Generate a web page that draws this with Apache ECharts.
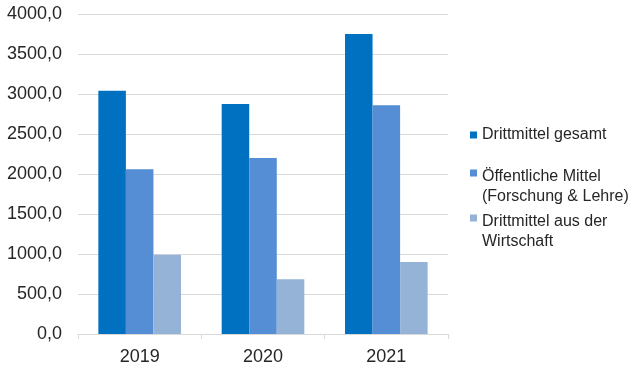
<!DOCTYPE html>
<html><head><meta charset="utf-8">
<script src="https://cdn.jsdelivr.net/npm/echarts@6/dist/echarts.min.js"></script>
<style>html,body{margin:0;padding:0;background:#fff}#c{width:640px;height:373px}</style>
</head><body><div id="c"></div>
<script>
const categories = ['2019', '2020', '2021'];
const seriesNames = ['Drittmittel gesamt', 'Öffentliche Mittel\n(Forschung & Lehre)', 'Drittmittel aus der\nWirtschaft'];
const gesamt = [3040, 2875, 3750];
const oeffentlich = [2060, 2200, 2858];
const wirtschaft = [990, 684, 900];
const colors = ['#0070c0', '#558ed5', '#95b3d7'];
const values = [gesamt, oeffentlich, wirtschaft];

const font = 'Liberation Sans, Arial, sans-serif';
const txt = '#262626';
const icon = 'path://M0,0h8v8h-8zM8,40';

const chart = echarts.init(document.getElementById('c'), null, {renderer: 'canvas'});
const legendTop = [120, 162, 207];
chart.setOption({
  animation: false,
  grid: {left: 78, right: 192, top: 14, bottom: 39, containLabel: false},
  xAxis: {
    type: 'category', data: categories,
    axisLine: {lineStyle: {color: '#d9d9d9', width: 1}},
    axisTick: {show: true, length: 5, lineStyle: {color: '#d9d9d9'}},
    axisLabel: {color: txt, fontFamily: font, fontSize: 18, margin: 14}
  },
  yAxis: {
    type: 'value', min: 0, max: 4000, interval: 500,
    axisLine: {show: false}, axisTick: {show: false},
    splitLine: {lineStyle: {color: '#d9d9d9', width: 1}},
    axisLabel: {color: txt, fontFamily: font, fontSize: 18, margin: 16,
      formatter: v => v.toFixed(1).replace('.', ',')}
  },
  legend: seriesNames.map((n, i) => ({
    data: [n], left: 465, top: legendTop[i], orient: 'vertical',
    icon: i === 0 ? 'rect' : icon,
    itemWidth: 7, itemHeight: i === 0 ? 7 : 38,
    selectedMode: false,
    textStyle: {color: txt, fontFamily: font, fontSize: 16, lineHeight: 20}
  })),
  series: seriesNames.map((n, i) => ({
    name: n, type: 'bar', data: values[i],
    itemStyle: {color: colors[i]},
    barGap: '0%', barCategoryGap: '33%'
  }))
});
</script></body></html>
